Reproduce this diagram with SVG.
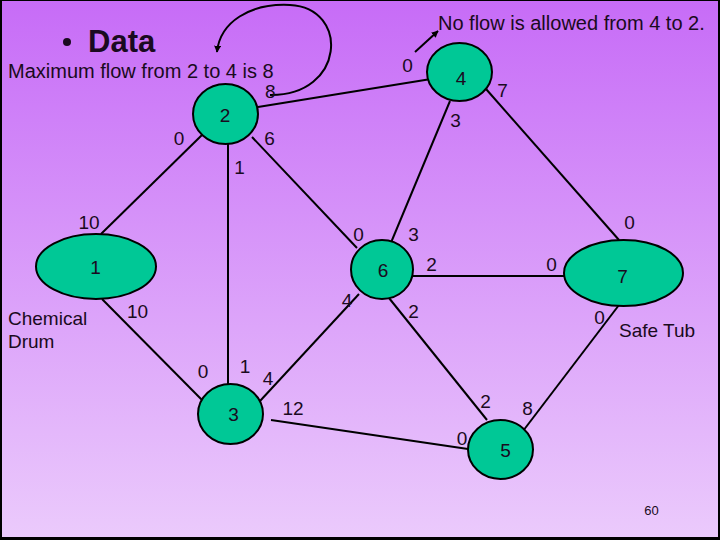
<svg xmlns="http://www.w3.org/2000/svg" width="720" height="540" viewBox="0 0 720 540">
<defs>
<linearGradient id="bg" x1="0" y1="0" x2="0" y2="1">
<stop offset="0" stop-color="#c76cf7"/>
<stop offset="1" stop-color="#ebcafc"/>
</linearGradient>
<marker id="ah" viewBox="0 0 10 10" refX="9" refY="5" markerWidth="7" markerHeight="7" orient="auto" markerUnits="userSpaceOnUse">
<path d="M0,0 L10,5 L0,10 z" fill="#000"/>
</marker>
</defs>
<style>
.n{fill:#00c896;stroke:#000;stroke-width:2}
.e{stroke:#000;stroke-width:2;fill:none}
text{font-family:"Liberation Sans",Arial,sans-serif;font-size:19px;fill:#1a0a20}
.c{text-anchor:middle}
</style>
<rect x="0" y="0" width="720" height="540" fill="#000"/>
<rect x="2" y="1" width="716" height="536" fill="url(#bg)"/>
<g id="connectors">
<line class="e" x1="258" y1="107" x2="431" y2="79"/>
<line class="e" x1="203" y1="134" x2="101" y2="234"/>
<line class="e" x1="228" y1="144" x2="228" y2="384"/>
<line class="e" x1="252" y1="137" x2="357" y2="248"/>
<line class="e" x1="450" y1="101" x2="390" y2="245"/>
<line class="e" x1="486" y1="89" x2="619" y2="240"/>
<line class="e" x1="102" y1="299" x2="202" y2="400"/>
<line class="e" x1="359" y1="294" x2="260" y2="401"/>
<line class="e" x1="413" y1="276" x2="569" y2="276"/>
<line class="e" x1="389" y1="298" x2="487" y2="420"/>
<line class="e" x1="619" y1="305" x2="523" y2="431"/>
<line class="e" x1="271" y1="420" x2="468" y2="449"/>
<path class="e" d="M270 95 C345 96 350 8 290 5 C250 3 220 22 217 52" marker-end="url(#ah)"/>
<line class="e" x1="415" y1="52" x2="438" y2="31" marker-end="url(#ah)"/>
</g>
<g id="node2"><ellipse class="n" cx="225.5" cy="114" rx="32.5" ry="30"/><text class="c" x="225" y="122">2</text></g>
<g id="node4"><ellipse class="n" cx="459.5" cy="72" rx="32.5" ry="29"/><text class="c" x="461" y="85">4</text></g>
<g id="node1"><ellipse class="n" cx="96" cy="266.5" rx="60" ry="32.5"/><text class="c" x="95.5" y="274">1</text></g>
<g id="node6"><ellipse class="n" cx="382" cy="269.5" rx="31" ry="29.5"/><text class="c" x="383" y="277">6</text></g>
<g id="node7"><ellipse class="n" cx="623.5" cy="273" rx="59.5" ry="33"/><text class="c" x="622.5" y="283">7</text></g>
<g id="node3"><ellipse class="n" cx="230.5" cy="414" rx="32.5" ry="30"/><text class="c" x="233.5" y="421">3</text></g>
<g id="node5"><ellipse class="n" cx="500.5" cy="449.5" rx="32.5" ry="29.5"/><text class="c" x="505.5" y="457">5</text></g>
<g id="labels">
<circle cx="67" cy="42" r="4" fill="#1a0a20"/>
<text x="88" y="52" style="font-size:31px;font-weight:bold">Data</text>
<text x="8" y="78" style="font-size:20px">Maximum flow from 2 to 4 is 8</text>
<text x="265" y="98">8</text>
<text x="438" y="30" style="font-size:20px">No flow is allowed from 4 to 2.</text>
<text class="c" x="179" y="145">0</text>
<text class="c" x="269.5" y="145">6</text>
<text class="c" x="239.5" y="174">1</text>
<text class="c" x="407.5" y="72">0</text>
<text class="c" x="502.5" y="97">7</text>
<text class="c" x="455.5" y="127">3</text>
<text class="c" x="89" y="229">10</text>
<text class="c" x="137.5" y="318">10</text>
<text x="8" y="325">Chemical</text>
<text x="8" y="348">Drum</text>
<text class="c" x="347" y="307">4</text>
<text class="c" x="358.5" y="241">0</text>
<text class="c" x="413.5" y="241">3</text>
<text class="c" x="431.5" y="271">2</text>
<text class="c" x="551.5" y="271">0</text>
<text class="c" x="629.5" y="229">0</text>
<text class="c" x="413.5" y="318">2</text>
<text class="c" x="599.5" y="324">0</text>
<text x="619" y="337">Safe Tub</text>
<text class="c" x="203" y="378">0</text>
<text class="c" x="245" y="373">1</text>
<text class="c" x="268" y="385">4</text>
<text class="c" x="293" y="415">12</text>
<text class="c" x="485.5" y="408">2</text>
<text class="c" x="527.5" y="415">8</text>
<text class="c" x="462" y="445">0</text>
<text class="c" x="651.5" y="515" style="font-size:13px">60</text>
</g>
</svg>
